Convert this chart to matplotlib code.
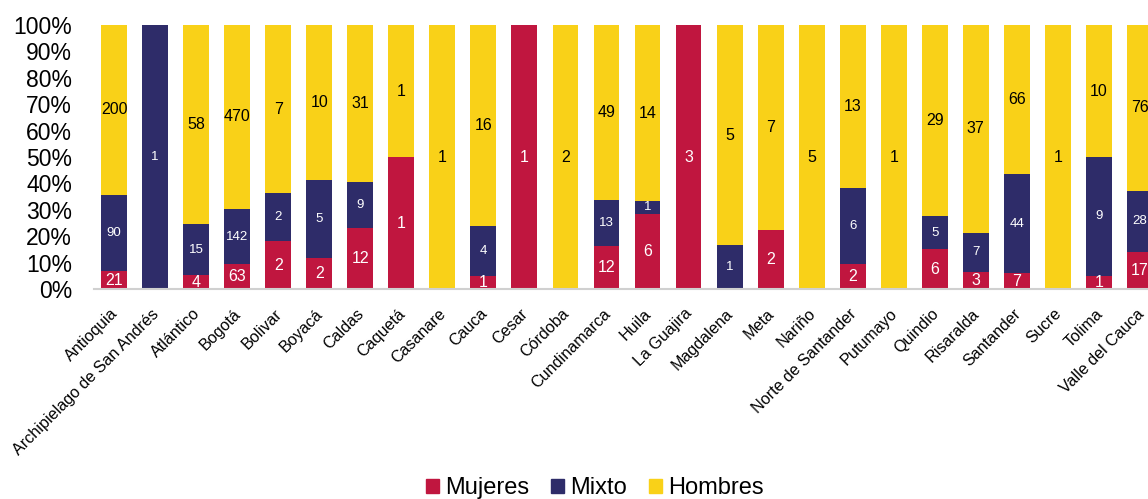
import numpy as np
import matplotlib
matplotlib.use("Agg")
import matplotlib.pyplot as plt
import matplotlib.transforms as mtransforms
from matplotlib.patches import Patch

plt.rcParams['font.family'] = ['Liberation Sans', 'DejaVu Sans']

departamentos = ['Antioquia', 'Archipielago de San Andrés', 'Atlántico', 'Bogotá', 'Bolivar',
                 'Boyacá', 'Caldas', 'Caquetá', 'Casanare', 'Cauca', 'Cesar', 'Córdoba',
                 'Cundinamarca', 'Huila', 'La Guajira', 'Magdalena', 'Meta', 'Nariño',
                 'Norte de Santander', 'Putumayo', 'Quindio', 'Risaralda', 'Santander',
                 'Sucre', 'Tolima', 'Valle del Cauca']
mujeres = [21, 0, 4, 63, 2, 2, 12, 1, 0, 1, 1, 0, 12, 6, 3, 0, 2, 0, 2, 0, 6, 3, 7, 0, 1, 17]
mixto = [90, 1, 15, 142, 2, 5, 9, 0, 0, 4, 0, 0, 13, 1, 0, 1, 0, 0, 6, 0, 5, 7, 44, 0, 9, 28]
hombres = [200, 0, 58, 470, 7, 10, 31, 1, 1, 16, 0, 2, 49, 14, 0, 5, 7, 5, 13, 1, 29, 37, 66, 1, 10, 76]

rojo = '#C0163F'
azul = '#2E2C69'
amarillo = '#F9D118'

m = np.array(mujeres, dtype=float)
x_ = np.array(mixto, dtype=float)
h = np.array(hombres, dtype=float)
total = m + x_ + h
pm, px, ph = m / total, x_ / total, h / total

fig = plt.figure(figsize=(11.48, 4.99), dpi=100)
ax = fig.add_axes([93.5 / 1148, 210 / 499, 1067 / 1148, 264 / 499])

pos = np.arange(len(departamentos))
w = 0.63
ax.bar(pos, pm, w, color=rojo, label='Mujeres')
ax.bar(pos, px, w, bottom=pm, color=azul, label='Mixto')
ax.bar(pos, ph, w, bottom=pm + px, color=amarillo, label='Hombres')

# etiquetas dentro de las barras
for i in pos:
    if m[i] > 0:
        ax.text(i, pm[i] / 2, str(mujeres[i]), ha='center', va='center', color='white', fontsize=11.5)
    if x_[i] > 0:
        ax.text(i, pm[i] + px[i] / 2, str(mixto[i]), ha='center', va='center', color='white', fontsize=9.5)
    if h[i] > 0:
        ax.text(i, pm[i] + px[i] + ph[i] / 2, str(hombres[i]), ha='center', va='center', color='black', fontsize=11.5)

ax.set_xlim(-0.5, len(departamentos) - 0.5)
ax.set_ylim(0, 1)
ax.set_yticks(np.arange(0, 1.01, 0.1))
ax.set_yticklabels([f'{int(round(v * 100))}%' for v in np.arange(0, 1.01, 0.1)], fontsize=16.5)
ax.set_xticks(pos)
ax.set_xticklabels(departamentos, rotation=45, ha='right', rotation_mode='anchor', fontsize=11.6)
ax.tick_params(axis='both', length=0)
ax.tick_params(axis='x', pad=8)
ax.tick_params(axis='y', pad=15.5)
desplaz = mtransforms.ScaledTranslation(-4 / 100, -6 / 100, fig.dpi_scale_trans)
for lbl in ax.get_xticklabels():
    lbl.set_transform(lbl.get_transform() + desplaz)
for s in ['top', 'right', 'left']:
    ax.spines[s].set_visible(False)
ax.spines['bottom'].set_color('#D0D0D0')
ax.spines['bottom'].set_linewidth(1.5)

handles = [Patch(color=rojo), Patch(color=azul), Patch(color=amarillo)]
fig.legend(handles, ['Mujeres', 'Mixto', 'Hombres'], loc='center', bbox_to_anchor=(595 / 1148, 11 / 499),
           ncol=3, frameon=False, fontsize=17, handlelength=0.55, handleheight=0.55,
           handletextpad=0.25, columnspacing=0.93, borderpad=0)

fig.savefig('out.png', dpi=100)
